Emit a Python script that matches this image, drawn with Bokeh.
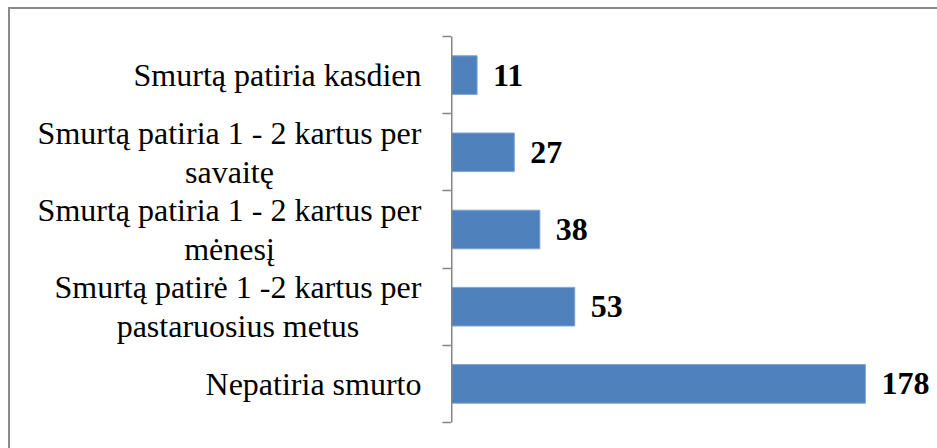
from bokeh.plotting import figure
from bokeh.layouts import row
from bokeh.models import ColumnDataSource, FixedTicker, Range1d
from bokeh.core.properties import value
from bokeh.embed import file_html
from bokeh.resources import INLINE

# bottom to top
categories = [
    "Nepatiria smurto",
    "Smurtą patirė 1 -2 kartus per\npastaruosius metus",
    "Smurtą patiria 1 - 2 kartus per\nmėnesį",
    "Smurtą patiria 1 - 2 kartus per\nsavaitę",
    "Smurtą patiria kasdien",
]
counts = [178, 53, 38, 27, 11]
x_max = 209

# layout (pixels)
H = 439
LABEL_W = 441      # width of label panel
BAR_W = 486        # width of bar panel
TOP, BOTTOM = 27, 26
FONT_PX = 32
GAP = 30

# Times New Roman / Liberation Serif advance widths (em/1000)
TW = {" ": 250, "-": 333, "1": 500, "2": 500, "S": 556, "N": 722, "a": 444, "d": 500,
      "e": 444, "i": 278, "k": 500, "m": 778, "n": 500, "o": 500, "p": 500, "r": 333,
      "s": 389, "t": 278, "u": 500, "v": 500, "ą": 444, "ę": 444, "ė": 444, "į": 278}

def text_w(s):
    return max(sum(TW.get(ch, 500) for ch in line) for line in s.split("\n")) * FONT_PX / 1000.0

n = len(categories)
ymid = [i + 0.5 for i in range(n)]
label_x = [LABEL_W - GAP - text_w(c) / 2.0 for c in categories]

src = ColumnDataSource(dict(y=ymid, v=counts, t=[str(c) for c in counts],
                            cat=categories, lx=label_x))
yr = Range1d(0, n)

# ---- label panel ----
pl = figure(width=LABEL_W, height=H, output_backend="svg", toolbar_location=None,
            x_range=Range1d(0, LABEL_W), y_range=yr,
            x_axis_location=None, y_axis_location=None,
            min_border_left=0, min_border_right=0, min_border_top=TOP, min_border_bottom=BOTTOM)
pl.grid.visible = False
pl.outline_line_color = None
pl.text(x="lx", y="y", text="cat", source=src,
        text_font=value("Liberation Serif"), text_font_size=f"{FONT_PX}px",
        text_baseline="middle", text_align="center", text_color="black",
        text_line_height=1.1)

# ---- bar panel ----
p = figure(width=BAR_W, height=H, output_backend="svg", toolbar_location=None,
           x_range=Range1d(0, x_max), y_range=yr, x_axis_location=None,
           min_border_left=0, min_border_right=0, min_border_top=TOP, min_border_bottom=BOTTOM)
p.hbar(y="y", right="v", left=0, height=0.5, source=src,
       fill_color="#4F81BD", line_color="#7FA3D0", line_width=1)
p.text(x="v", y="y", text="t", source=src, x_offset=16,
       text_font=value("Liberation Serif"), text_font_style="bold",
       text_font_size=f"{FONT_PX}px", text_baseline="middle",
       text_align="left", text_color="black")
p.grid.visible = False
p.outline_line_color = None

ax = p.yaxis[0]
ax.ticker = FixedTicker(ticks=list(range(n + 1)), minor_ticks=[])
ax.major_label_overrides = {i: "" for i in range(n + 1)}
ax.major_label_text_font_size = "0px"
ax.major_label_standoff = 0
ax.major_tick_out = 0
ax.major_tick_in = 0
ax.minor_tick_out = 0
ax.axis_line_color = "#868686"
ax.axis_line_width = 2

# ticks drawn from the label panel's right edge using an inward-pointing right axis
from bokeh.models import LinearAxis
rax = LinearAxis(ticker=FixedTicker(ticks=list(range(n + 1)), minor_ticks=[]),
                 major_label_overrides={i: "" for i in range(n + 1)},
                 major_label_text_font_size="0px", major_label_standoff=0,
                 major_tick_in=9, major_tick_out=0, minor_tick_out=0, minor_tick_in=0,
                 major_tick_line_color="#868686", major_tick_line_width=1.5,
                 axis_line_color=None)
pl.add_layout(rax, "right")

layout = row(pl, p)
layout.styles = {"margin-left": "8px", "margin-top": "7px",
                 "border-left": "2px solid #8a8a8a", "border-top": "2px solid #8a8a8a"}

open("out.html", "w").write(file_html(layout, INLINE))
